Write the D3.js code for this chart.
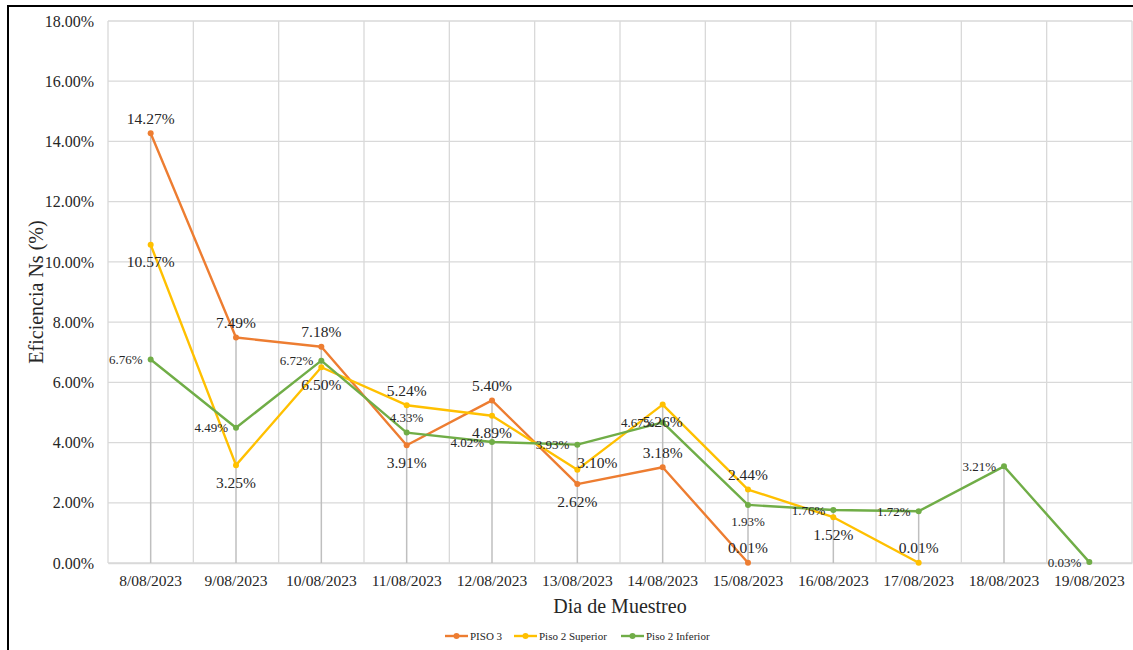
<!DOCTYPE html>
<html><head><meta charset="utf-8">
<script src="https://cdn.jsdelivr.net/npm/d3@7"></script>
<style>body{margin:0;background:#fff}svg{display:block}svg text{font-family:'Liberation Serif','Times New Roman','DejaVu Serif',serif !important;fill:#262626}</style>
</head><body><svg id="c" width="1133" height="650"></svg>
<script>
const categories = ["8/08/2023","9/08/2023","10/08/2023","11/08/2023","12/08/2023","13/08/2023","14/08/2023","15/08/2023","16/08/2023","17/08/2023","18/08/2023","19/08/2023"];
const piso3 = [14.27, 7.49, 7.18, 3.91, 5.40, 2.62, 3.18, 0.01];
const piso2Superior = [10.57, 3.25, 6.50, 5.24, 4.89, 3.10, 5.26, 2.44, 1.52, 0.01];
const piso2Inferior = [6.76, 4.49, 6.72, 4.33, 4.02, 3.93, 4.67, 1.93, 1.76, 1.72, 3.21, 0.03];
const yTicks = [0, 2, 4, 6, 8, 10, 12, 14, 16, 18];
const seriesNames = ["PISO 3", "Piso 2 Superior", "Piso 2 Inferior"];
// label placement per point (a = above, b = below, l = left, r = right)
const pos3 = ["a","a","a","b","a","b","a","a"];
const posSup = ["b","b","b","a","b","r","b","a","b","a"];
const posInf = ["l","l","l","a","l","l","l","b","l","l","l","l"];

const FONT = "'Liberation Serif','Times New Roman','DejaVu Serif',serif";
const svg = d3.select("#c").attr("font-family", FONT);
const L = 108, R = 1132, T = 21, B = 563;
const x = d3.scaleBand().domain(categories).range([L, R]).padding(0);
const y = d3.scaleLinear().domain([0, 18]).range([B, T]);
const cx = c => x(c) + x.bandwidth() / 2;

// outer border
svg.append("rect").attr("x", 8).attr("y", 6).attr("width", 1140).attr("height", 660)
  .attr("fill", "none").attr("stroke", "#000").attr("stroke-width", 2);

// grid
const g = svg.append("g");
g.selectAll(".hg").data(yTicks).join("line")
  .attr("x1", L).attr("x2", R).attr("y1", d => y(d)).attr("y2", d => y(d))
  .attr("stroke", "#d9d9d9").attr("stroke-width", 1.3);
const edges = categories.map(c => x(c)).concat([R]);
g.selectAll(".vg").data(edges).join("line")
  .attr("x1", d => d).attr("x2", d => d).attr("y1", T).attr("y2", B)
  .attr("stroke", "#d9d9d9").attr("stroke-width", 1.3);

// axes
const yAxis = d3.axisLeft(y).tickValues(yTicks).tickSize(0).tickPadding(14).tickFormat(d => d.toFixed(2) + "%");
const ya = svg.append("g").attr("transform", `translate(${L},0)`).call(yAxis).attr("font-family", FONT);
ya.select(".domain").remove();
ya.selectAll("text").style("font-size", "16px").attr("fill", "#262626");
const xAxis = d3.axisBottom(x).tickSize(0).tickPadding(12);
const xa = svg.append("g").attr("transform", `translate(0,${B})`).call(xAxis).attr("font-family", FONT);
xa.select(".domain").attr("stroke", "#d9d9d9").attr("stroke-width", 1.3);
xa.selectAll("text").style("font-size", "15.5px").attr("fill", "#262626");

// drop lines
const allSeries = [piso3, piso2Superior, piso2Inferior];
const maxes = categories.map((c, i) => d3.max(allSeries, s => s[i] === undefined ? -1 : s[i]));
svg.append("g").selectAll("line").data(categories).join("line")
  .attr("x1", c => cx(c)).attr("x2", c => cx(c))
  .attr("y1", (c, i) => y(maxes[i])).attr("y2", B)
  .attr("stroke", "#bfbfbf").attr("stroke-width", 1.5);

const colors = ["#ED7D31", "#FFC000", "#70AD47"];
const line = d3.line().x(d => cx(d.c)).y(d => y(d.v));
const positions = [pos3, posSup, posInf];
const fontSizes = [15.5, 15.5, 13];

allSeries.forEach((s, k) => {
  const pts = s.map((v, i) => ({c: categories[i], v, p: positions[k][i]}));
  svg.append("path").datum(pts).attr("d", line).attr("fill", "none")
    .attr("stroke", colors[k]).attr("stroke-width", 2.4).attr("stroke-linejoin", "round");
  svg.append("g").selectAll("circle").data(pts).join("circle")
    .attr("cx", d => cx(d.c)).attr("cy", d => y(d.v)).attr("r", 3).attr("fill", colors[k]);
});
allSeries.forEach((s, k) => {
  const pts = s.map((v, i) => ({c: categories[i], v, p: positions[k][i]}));
  const fs = fontSizes[k];
  svg.append("g").selectAll("text").data(pts).join("text")
    .attr("x", d => cx(d.c) + (d.p === "l" ? -8 : 0))
    .attr("y", d => y(d.v) + (d.p === "a" ? -15 : d.p === "b" ? 17 : d.p === "r" ? -7 : 0))
    .attr("dy", "0.35em")
    .attr("text-anchor", d => d.p === "l" ? "end" : d.p === "r" ? "start" : "middle")
    .style("font-size", fs + "px")
    .text(d => d.v.toFixed(2) + "%");
});

// axis titles
svg.append("text").attr("transform", `translate(36,${(T + B) / 2}) rotate(-90)`)
  .attr("text-anchor", "middle").attr("dy", "0.35em").style("font-size", "20px").text("Eficiencia Ns (%)");
svg.append("text").attr("x", (L + R) / 2).attr("y", 606).attr("text-anchor", "middle").attr("dy", "0.35em")
  .style("font-size", "20px").text("Dia de Muestreo");

// legend
const legX = [445, 514, 621];
const lg = svg.append("g");
seriesNames.forEach((n, k) => {
  const gg = lg.append("g").attr("transform", `translate(${legX[k]},636)`);
  gg.append("line").attr("x1", 0).attr("x2", 23).attr("stroke", colors[k]).attr("stroke-width", 2.4);
  gg.append("circle").attr("cx", 11.5).attr("r", 3).attr("fill", colors[k]);
  gg.append("text").attr("x", 25).attr("dy", "0.35em").style("font-size", "11px").text(n);
});
</script></body></html>
